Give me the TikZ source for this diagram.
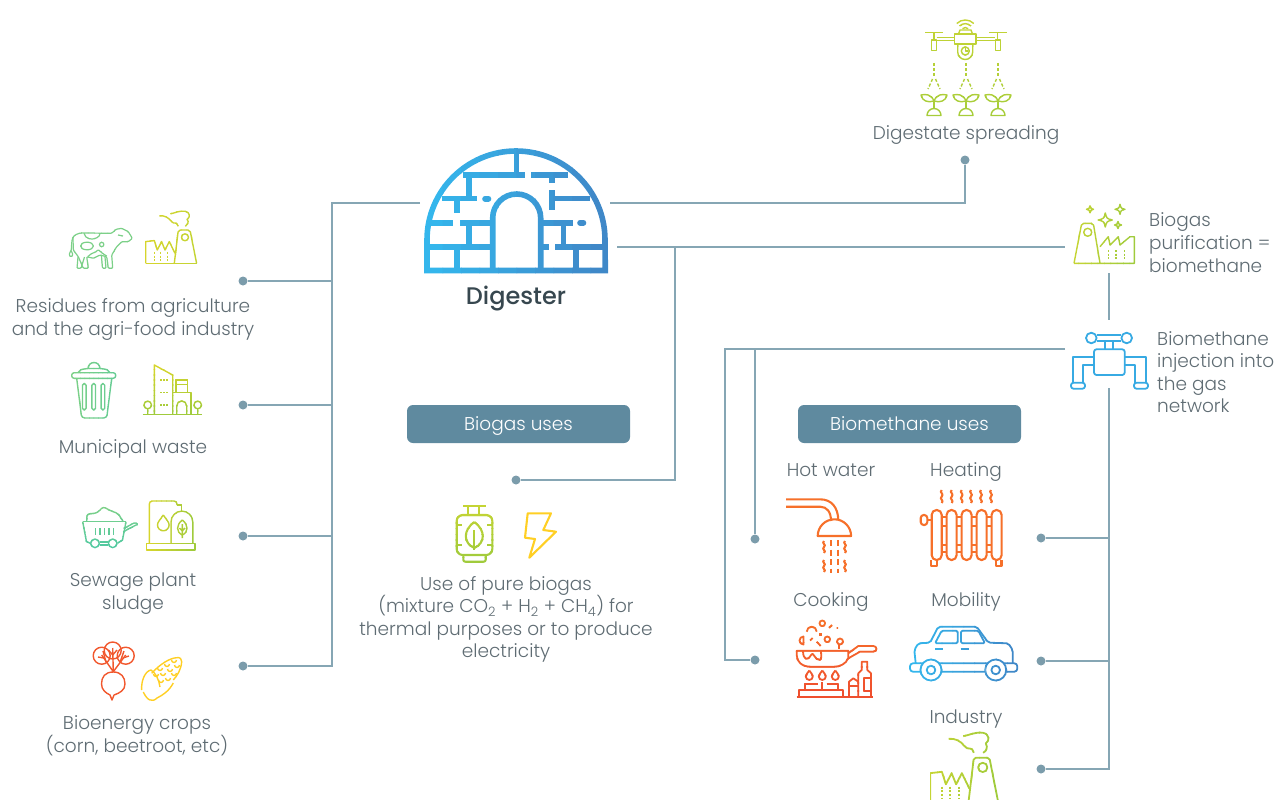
\documentclass[tikz,border=0pt]{standalone}
\usepackage{fontspec}
\setmainfont{Poppins}[UprightFont=* Light,BoldFont=* Medium]
\usetikzlibrary{positioning}
\definecolor{linkcol}{HTML}{86A6B4}
\definecolor{dotcol}{HTML}{7B9CAB}
\definecolor{boxcol}{HTML}{5F8A9F}
\definecolor{textcol}{HTML}{5F6C73}
\definecolor{darkcol}{HTML}{37474F}
\definecolor{skyA}{HTML}{34B6EC}
\definecolor{skyB}{HTML}{3F88C8}
\definecolor{limeA}{HTML}{D6D52C}
\definecolor{limeB}{HTML}{C4D434}
\definecolor{limeC}{HTML}{A0CB3C}
\definecolor{mintA}{HTML}{7CD088}
\definecolor{mintB}{HTML}{52C9A0}
\definecolor{fireA}{HTML}{F6702A}
\definecolor{fireB}{HTML}{EF4F2E}
\definecolor{cornA}{HTML}{FFCF24}
\tikzset{
 link/.style={draw=linkcol,line width=1.2pt},
 dot/.style={circle,fill=dotcol,inner sep=0pt,minimum size=9pt},
 usebox/.style={rectangle,rounded corners=6pt,fill=boxcol,text=white,minimum width=223pt,minimum height=38pt,inner sep=0pt,text height=17pt,text depth=4pt,font=\fontsize{18.5}{22}\selectfont},
 label/.style={text=textcol,font=\fontsize{18.5}{23}\selectfont,inner sep=0pt,align=center,execute at begin node=\strut,execute at end node=\strut},
 sidelabel/.style={text=textcol,font=\fontsize{18.5}{22.6}\selectfont,inner sep=0pt,align=left,anchor=west,execute at begin node=\strut,execute at end node=\strut},
 thin icon/.style={line width=1.4pt,line join=round},
 mid icon/.style={line width=1.8pt,line join=round},
 bold icon/.style={line width=2.1pt,line join=round}
}
% gradient strokes: the same drawing cut in bands
\newcommand{\gradx}[5]{%
 \foreach \band in {0,...,9}{%
  \pgfmathsetmacro{\bandl}{#1+(#2-#1)*\band/10}
  \pgfmathsetmacro{\bandr}{#1+(#2-#1)*(\band+1)/10+0.6}
  \pgfmathsetmacro{\bandmix}{100-\band*100/9}
  \colorlet{bandcol}{#3!\bandmix!#4}
  \begin{scope}
  \clip (\bandl,0) rectangle (\bandr,800);
  \begin{scope}[color=bandcol] #5 \end{scope}
  \end{scope}}}
\newcommand{\grady}[5]{%
 \foreach \band in {0,...,9}{%
  \pgfmathsetmacro{\bandl}{#1+(#2-#1)*\band/10}
  \pgfmathsetmacro{\bandr}{#1+(#2-#1)*(\band+1)/10+0.6}
  \pgfmathsetmacro{\bandmix}{100-\band*100/9}
  \colorlet{bandcol}{#3!\bandmix!#4}
  \begin{scope}
  \clip (0,\bandl) rectangle (1277,\bandr);
  \begin{scope}[color=bandcol] #5 \end{scope}
  \end{scope}}}
\newcommand{\plantsprout}[1]{%
 \draw (#1-7,115.5) arc[start angle=180,end angle=0,radius=7pt] -- cycle;
 \draw (#1,108.5) -- (#1,101);
 \draw (#1,101) .. controls (#1-3,94) and (#1-8,94) .. (#1-13,95) .. controls (#1-12,101) and (#1-6,103) .. (#1,101);
 \draw (#1,101) .. controls (#1+3,94) and (#1+8,94) .. (#1+13,95) .. controls (#1+12,101) and (#1+6,103) .. (#1,101);
 \draw[dash pattern=on 3pt off 2pt] (#1,63) -- (#1,76);
 \draw[dash pattern=on 3pt off 2pt] (#1-1.5,79) -- (#1-6,89);
 \draw[dash pattern=on 3pt off 2pt] (#1+1.5,79) -- (#1+6,89);}
\newcommand{\sparkle}[3]{%
 \draw (#1,#2-#3) .. controls (#1+.2*#3,#2-.2*#3) .. (#1+#3,#2) .. controls (#1+.2*#3,#2+.2*#3) .. (#1,#2+#3) .. controls (#1-.2*#3,#2+.2*#3) .. (#1-#3,#2) .. controls (#1-.2*#3,#2-.2*#3) .. cycle;}
\newcommand{\wavyline}[3]{%
 \draw (#1,#2) .. controls (#1-3,#2+#3*.2) and (#1+3,#2+#3*.3) .. (#1,#2+#3*.5) .. controls (#1-3,#2+#3*.7) and (#1+3,#2+#3*.8) .. (#1,#2+#3);}
\newcommand{\smokefactory}{%
 \draw (-28.7,0) -- (-28.7,-21.7) -- (-20,-22.7) -- (-17,-13.3) -- (-12.7,-21.7) -- (-9.3,-13.3) -- (-5,-21.7) -- (0.7,-10);
 \draw (-28.7,0) -- (22.3,0);
 \draw[rounded corners=2pt] (0,0) -- (4,-33.3) -- (15.7,-33.3) -- (22.3,0);
 \draw (10.7,-26) circle[radius=3.5pt];
 \foreach \wx in {-20,-13.7,-7}{\draw[dash pattern=on 2pt off 1.7pt] (\wx,-11.5) -- (\wx,-2);}
 \draw (-15,-47.5) .. controls (-10,-48) and (-6,-46) .. (-3,-42) .. controls (0,-38) and (2,-43) .. (4,-37);
 \draw (-4,-49.5) .. controls (0,-50) and (5,-53) .. (11,-52) .. controls (16,-51) and (16,-46) .. (13,-44) .. controls (15,-41) and (13,-38) .. (11,-37);}

\begin{document}
\begin{tikzpicture}[x=1pt,y=-1pt]
\useasboundingbox (0,0) rectangle (1277,800);

\path (243,281) node[dot,name=dotresidues] {};
\path (243,405) node[dot,name=dotmunicipal] {};
\path (243,536) node[dot,name=dotsewage] {};
\path (243,666) node[dot,name=dotcrops] {};
\path (965,160) node[dot,name=dotspread] {};
\path (516,480) node[dot,name=dotbiogas] {};
\path (755,539) node[dot,name=dothot] {};
\path (755,660) node[dot,name=dotcook] {};
\path (1041,538) node[dot,name=dotheat] {};
\path (1041,661) node[dot,name=dotmobility] {};
\path (1041,769) node[dot,name=dotindustry] {};

\coordinate (iglooleft) at (420,203);
\coordinate (igloospread) at (610,203);
\coordinate (igloopure) at (617,247);
\coordinate (trunktop) at (332,203);
\coordinate (trunkres) at (332,281);
\coordinate (trunkmun) at (332,405);
\coordinate (trunksew) at (332,536);
\coordinate (trunkcrop) at (332,666);
\coordinate (spreadcorner) at (965,203);
\coordinate (purein) at (1065,247);
\coordinate (biogasdrop) at (675,247);
\coordinate (biogascorner) at (675,480);
\coordinate (pureout) at (1109,273);
\coordinate (injectin) at (1109,320);
\coordinate (injectleft) at (1065,349);
\coordinate (farcorner) at (725,349);
\coordinate (hotcorner) at (755,349);
\coordinate (cookcorner) at (725,660);
\coordinate (injectdown) at (1109,388);
\coordinate (downheat) at (1109,538);
\coordinate (downmob) at (1109,661);
\coordinate (downind) at (1109,769);

\draw[link] (iglooleft) -- (trunktop) -- (trunkcrop) -- (dotcrops);
\draw[link] (trunkres) -- (dotresidues);
\draw[link] (trunkmun) -- (dotmunicipal);
\draw[link] (trunksew) -- (dotsewage);
\draw[link] (igloospread) -- (spreadcorner) -- (dotspread);
\draw[link] (igloopure) -- (purein);
\draw[link] (biogasdrop) -- (biogascorner) -- (dotbiogas);
\draw[link] (pureout) -- (injectin);
\draw[link] (injectleft) -- (farcorner) -- (cookcorner) -- (dotcook);
\draw[link] (hotcorner) -- (dothot);
\draw[link] (injectdown) -- (downind) -- (dotindustry);
\draw[link] (downheat) -- (dotheat);
\draw[link] (downmob) -- (dotmobility);

\path (518.5,424) node[usebox,name=biogasuses] {Biogas uses};
\path (909.5,424) node[usebox,name=methaneuses] {Biomethane uses};

\path (516,298.5) node[name=digester,inner sep=0pt,text=darkcol,font=\fontsize{24}{26}\bfseries\selectfont] {Digester};
\path (966,134.4) node[label,name=spreadtext] {Digestate spreading};
\path (1149,246) node[sidelabel,name=puretext] {Biogas\\purification =\\biomethane};
\path (1157,375.4) node[sidelabel,name=injecttext] {Biomethane\\injection into\\the gas\\network};
\path (133,320.9) node[label,name=residuetext] {Residues from agriculture\\and the agri-food industry};
\path (133,448.4) node[label,name=municipaltext] {Municipal waste};
\path (133,594.9) node[label,name=sewagetext] {Sewage plant\\sludge};
\path (137,737.9) node[label,name=cropstext] {Bioenergy crops\\(corn, beetroot, etc)};
\path (506,620.4) node[label,font=\fontsize{18.5}{22.4}\selectfont,name=puretextb] {Use of pure biogas\\(mixture CO\textsubscript{2} + H\textsubscript{2} + CH\textsubscript{4}) for\\thermal purposes or to produce\\electricity};
\path (831,471.4) node[label,name=hottext] {Hot water};
\path (966,471.4) node[label,name=heattext] {Heating};
\path (831,601.4) node[label,name=cooktext] {Cooking};
\path (966,601.4) node[label,name=mobtext] {Mobility};
\path (966,718.4) node[label,name=industrytext] {Industry};

% digester igloo
\gradx{424}{609}{skyA}{skyB}{
 \draw[line width=5.6pt,line join=miter] (427,270.5) -- (427,240) arc[start angle=180,end angle=0,radius=89pt] -- (605.3,270.5) -- cycle;
 \draw[line width=5.6pt] (492.7,270) -- (492.7,218) arc[start angle=180,end angle=0,radius=24pt] -- (540.7,270);
 \draw[line width=5.6pt] (516.3,150) -- (516.3,175);
 \draw[line width=5.6pt] (463.3,175) -- (525,175);
 \draw[line width=5.6pt] (531,175) -- (568,175);
 \draw[line width=5.6pt] (469,175) -- (469,198.3);
 \draw[line width=5.6pt] (441.7,198.3) -- (477.3,198.3);
 \draw[line width=5.6pt] (456.7,198.3) -- (456.7,213.3);
 \draw[line width=5.6pt,line cap=round] (485,198.7) -- (488.5,198.7);
 \draw[line width=5.6pt] (552,175) -- (552,183.3);
 \draw[line width=5.6pt] (552,190) -- (552,210);
 \draw[line width=5.6pt] (552,198.3) -- (590,198.3);
 \draw[line width=5.6pt] (431,222.7) -- (453.3,222.7);
 \draw[line width=5.6pt] (460,222.7) -- (490,222.7);
 \draw[line width=5.6pt] (469,222.7) -- (469,246.7);
 \draw[line width=5.6pt] (427,246.7) -- (490,246.7);
 \draw[line width=5.6pt] (456.7,246.7) -- (456.7,270);
 \draw[line width=5.6pt] (543,222.7) -- (573.3,222.7);
 \draw[line width=5.6pt,line cap=round] (580,222.7) -- (583.5,222.7);
 \draw[line width=5.6pt] (563.3,222.7) -- (563.3,246.7);
 \draw[line width=5.6pt] (543,246.7) -- (549,246.7);
 \draw[line width=5.6pt] (555,246.7) -- (605,246.7);
 \draw[line width=5.6pt] (575.7,246.7) -- (575.7,270);
}

% drone and sprouts
\grady{15}{117}{limeB}{limeC!80!limeB}{
 \begin{scope}[thin icon]
 \draw (956.8,23.5) arc[start angle=135,end angle=45,radius=12pt];
 \draw (959.6,26) arc[start angle=135,end angle=45,radius=8pt];
 \draw (962.5,28.7) arc[start angle=135,end angle=45,radius=4pt];
 \draw (958.5,34) -- (960,30) -- (971,30) -- (972.5,34);
 \draw (954.3,34) rectangle (976,44);
 \draw (936.7,37.3) -- (954.3,37.3) (936.7,40.7) -- (954.3,40.7);
 \draw (976,37.3) -- (995.3,37.3) (976,40.7) -- (995.3,40.7);
 \draw (925,32.3) -- (942.7,32.3) (934,32.3) -- (934,40);
 \draw (989.3,32.3) -- (1006.7,32.3) (997.7,32.3) -- (997.7,40);
 \draw (931.3,40) rectangle (936.7,50.7);
 \draw (995.3,40) rectangle (1000.7,50.7);
 \draw (957.7,44) -- (957.7,52) arc[start angle=180,end angle=360,radius=7.5pt] -- (972.7,44);
 \draw (965.3,51) circle[radius=4pt];
 \draw (965.3,48.5) -- (965.3,51) -- (967.5,51);
 \plantsprout{934}
 \plantsprout{966}
 \plantsprout{998}
 \end{scope}
}

% purification plant
\gradx{1072}{1136}{limeB}{limeC}{
 \begin{scope}[thin icon]
 \draw[rounded corners=2pt] (1074,263.3) -- (1081.7,223.3) -- (1093.3,223.3) -- (1100,263.3);
 \draw (1074,263.3) -- (1134.3,263.3) -- (1134.3,236.7) -- (1130,236.7) -- (1120,245) -- (1118.3,236.7) -- (1110,245) -- (1108.3,236.7) -- (1100,246.7);
 \draw (1087.7,232.3) circle[radius=4pt];
 \foreach \wx in {1108.3,1116,1124.3}{\draw[dash pattern=on 2pt off 1.7pt] (\wx,250) -- (\wx,260);}
 \sparkle{1105.3}{220}{7}
 \sparkle{1120}{209.3}{5}
 \sparkle{1090}{209.3}{3.5}
 \sparkle{1118}{225}{3.5}
 \end{scope}
}

% valve
\begin{scope}[color=skyA!75!skyB,mid icon]
 \draw[rounded corners=2.5pt] (1094,349.3) rectangle (1124.7,375);
 \draw (1091.3,338) circle[radius=5.3pt];
 \draw (1126.7,338) circle[radius=5.3pt];
 \draw (1096.7,335) -- (1121.4,335) (1096.7,340.7) -- (1121.4,340.7);
 \draw (1105,340.7) -- (1105,349.3) (1113.3,340.7) -- (1113.3,349.3);
 \draw (1094,356.7) -- (1072.7,356.7) -- (1072.7,382.7);
 \draw (1083.3,382.7) -- (1083.3,365) -- (1094,365);
 \draw (1124.7,356.7) -- (1146,356.7) -- (1146,382.7);
 \draw (1135.3,382.7) -- (1135.3,365) -- (1124.7,365);
 \draw[rounded corners=2.5pt] (1071,382.7) rectangle (1085,388.7);
 \draw[rounded corners=2.5pt] (1134,382.7) rectangle (1148,388.7);
\end{scope}

% cow
\gradx{68}{134}{mintA}{mintA}{
 \begin{scope}[line width=1.2pt,line join=round,rounded corners=1pt]
 \draw (73,237) .. controls (71,242) and (72,247) .. (71,251);
 \draw (71,250) -- (73,255) -- (71,257) -- (69,255) -- cycle;
 \draw (73,237) .. controls (77,233) and (82,232.7) .. (86,233) -- (111.7,233.3) -- (116,229.3) -- (121.7,228.3) -- (128.3,231.7) -- (132.3,238.3) -- (128.3,241.7) -- (121.7,241.7) -- (116.7,246.7) -- (111.7,255) -- (112.7,268.3) -- (108.3,268.3) -- (106.7,256.7) -- (100,255) -- (93.3,258.3) -- (86.7,256.7) -- (88.3,268.3) -- (83.3,268.3) -- (78.3,256.7) -- (73.3,250) -- cycle;
 \draw (105,257) -- (106,268.3) -- (102.5,268.3) -- (101.5,256);
 \draw (84.5,257) -- (81,268.3) -- (77,268.3) -- (78,257);
 \draw (87,246) ellipse[x radius=6.5pt,y radius=3.8pt];
 \draw (101.7,244.5) circle[radius=2.2pt];
 \draw (84,233.3) .. controls (85,239) and (92,240) .. (96,238) .. controls (99,237) and (100,235) .. (100,233.3);
 \draw (88,256.5) .. controls (92,252) and (96,253) .. (98,249.5) .. controls (101,252) and (103,254) .. (106.7,256);
 \draw (118,235) -- (123,236);
 \end{scope}
}

% factory beside the cow
\gradx{145}{197}{limeA}{limeB}{
 \begin{scope}[shift={(174.3,263.3)},thin icon]
 \smokefactory
 \end{scope}
}

% bin
\gradx{71}{116}{mintA}{mintB!50!mintA}{
 \begin{scope}[thin icon]
 \draw[rounded corners=2.5pt] (71.7,372.7) rectangle (115.7,378.3);
 \draw (78,372.7) .. controls (80,369.5) .. (88,368.5);
 \draw (100,368.5) .. controls (108,369.5) .. (110,372.7);
 \draw (88,368.5) arc[start angle=180,end angle=0,radius=6pt] -- cycle;
 \draw[rounded corners=3pt] (76.7,378.3) -- (81.7,418) -- (106.7,418) -- (111.7,378.3);
 \foreach \sx in {84.3,93.7,102.9}{\draw[rounded corners=1.7pt] (\sx-1.8,383.5) rectangle (\sx+1.8,410);}
 \end{scope}
}

% buildings
\grady{364}{416}{limeA}{limeC}{
 \begin{scope}[thin icon]
 \draw (142.7,414.3) -- (202.3,414.3);
 \draw (154.3,414.3) -- (154.3,365) -- (172.7,375) -- (172.7,414.3);
 \draw (172.7,392.7) -- (191,392.7) -- (191,414.3);
 \draw (176,392.7) -- (176,380) -- (187.7,380) -- (187.7,392.7) (176,384.3) -- (187.7,384.3);
 \draw (176.7,414.3) -- (176.7,406) arc[start angle=180,end angle=0,radius=5pt] -- (186.7,414.3);
 \draw (147.7,405) circle[radius=3.8pt] (147.7,408.8) -- (147.7,414.3);
 \draw (197.7,405) circle[radius=3.8pt] (197.7,408.8) -- (197.7,414.3);
 \foreach \wy in {380,392.7,405}{\draw[dash pattern=on 1.7pt off 1.2pt] (160,\wy) -- (168,\wy);}
 \end{scope}
}

% wheelbarrow
\grady{506}{549}{mintA}{mintB}{
 \begin{scope}[thin icon]
 \draw[rounded corners=2.5pt] (86.7,521.7) -- (87,514) -- (97,513) -- (103.3,506.7) -- (110,510.5) -- (118,513.5) -- (123.3,521.7);
 \draw (82.7,521.7) -- (126,521.7);
 \draw (82.7,521.7) -- (86.5,541.7) -- (90.5,543.3);
 \draw (126,521.7) -- (122.5,540) -- (117.5,543.3);
 \draw (123.3,531.7) -- (136,525);
 \draw (123.8,528.5) -- (134,523);
 \draw (134,523) .. controls (138,522) and (138,526) .. (136,525);
 \draw (95,543.3) circle[radius=4.3pt];
 \draw (112.7,543.3) circle[radius=4.3pt];
 \draw (99.5,542) -- (108.3,542) (99.5,545) -- (108.3,545);
 \foreach \tx in {95.3,99.8,104.3,108.8,113.3}{\draw (\tx,528.3) -- (\tx,535);}
 \end{scope}
}

% tanks
\gradx{146}{196}{limeA}{limeC}{
 \begin{scope}[thin icon]
 \draw (146.7,543.3) rectangle (195,550);
 \draw[rounded corners=3pt] (149.3,543.3) -- (149.3,501) -- (177,501) -- (177,505);
 \draw (171,543.3) -- (171,522) arc[start angle=180,end angle=0,radius=10.9pt] -- (192.8,543.3);
 \draw (177,505) -- (181.7,505) -- (181.7,511);
 \draw (163.3,515) .. controls (160,520) and (157.5,522) .. (157.5,525) arc[start angle=180,end angle=360,radius=5.8pt] .. controls (169.1,522) and (166.6,520) .. (163.3,515);
 \draw (182.3,520) .. controls (176,525) and (176,532) .. (182.3,535) .. controls (188.6,532) and (188.6,525) .. (182.3,520);
 \draw (182.3,524) -- (182.3,538) (182.3,531) -- (179.5,528) (182.3,531) -- (185.1,528);
 \end{scope}
}

% beetroot
\begin{scope}[color=fireB!75!fireA,thin icon]
 \draw (101.7,655.7) circle[radius=8.5pt];
 \draw (112.7,650.5) circle[radius=8.5pt];
 \draw (125.7,655.7) circle[radius=8.5pt];
 \draw (113.3,671.7) -- (101.7,655 ) (113.3,671.7) -- (112.7,648) (113.3,671.7) -- (125.7,655);
 \draw (104,658) -- (98,657) (106,662) -- (103,651) (112.7,655) -- (108.5,650) (112.7,655) -- (117,650) (123,658) -- (129,656) (120.5,661) -- (124,651);
 \draw (113.3,672) .. controls (105,672) and (101.5,677) .. (101.5,684) .. controls (101.5,690) and (106,693) .. (110,695) -- (112,700) -- (114,695) .. controls (120,693) and (125,690) .. (125,684) .. controls (125,677) and (121,672) .. (113.3,672);
\end{scope}

% corn
\begin{scope}[color=cornA,thin icon]
 \draw (151.7,673.3) .. controls (160,664) and (170,658) .. (176.7,657.7) .. controls (180,657) and (182,659) .. (181.7,661.7) .. controls (181,670) and (177,676) .. (173.3,680);
 \draw (141.7,690) .. controls (141,681) and (145,671) .. (151,670) .. controls (156,673) and (159,680) .. (160,687);
 \draw (143.3,692) .. controls (147,700) and (152,703) .. (157,698) .. controls (163,695) and (169,691) .. (173.3,683);
 \foreach \kx/\ky in {160/668,167/664,174/660,156/674,163/673,170/669,177/665,161/680,168/678,174/673}{\draw (\kx-2.5,\ky) arc[start angle=180,end angle=360,radius=2.5pt];}
\end{scope}

% gas bottle
\grady{505}{563}{limeB}{limeC}{
 \begin{scope}[bold icon]
 \draw (463.3,506) -- (485.7,506);
 \draw (468.3,506) -- (468.3,515) (479.3,506) -- (479.3,515);
 \draw[rounded corners=6pt] (456.7,515) rectangle (492.3,555);
 \draw[rounded corners=2pt] (463.3,555) -- (463.3,561.7) -- (485.7,561.7) -- (485.7,555);
 \draw (474.3,522) .. controls (463,530) and (463,543) .. (474.3,548) .. controls (485.6,543) and (485.6,530) .. (474.3,522);
 \draw (474.3,530) -- (474.3,550);
 \draw (456.7,525) -- (461.7,525) (456.7,545) -- (461.7,545) (487.3,525) -- (492.3,525) (487.3,545) -- (492.3,545);
 \end{scope}
}

% lightning
\draw[color=cornA,bold icon] (527.7,513.3) -- (551,513.3) -- (543.3,530) -- (556,531.7) -- (529.3,557.7) -- (535,539) -- (525,537.7) -- cycle;

% shower
\begin{scope}[color=fireA,bold icon]
 \draw (786,499.3) -- (820,499.3) .. controls (832,499.3) and (838,508) .. (838.3,520);
 \draw (786,506.7) -- (820,506.7) .. controls (827,506.7) and (831,512) .. (831,521);
 \draw (817.7,536) arc[start angle=180,end angle=0,radius=16.7pt] -- cycle;
 \foreach \rx in {824,845}{\wavyline{\rx}{541}{12} \wavyline{\rx}{560}{12}}
 \foreach \rx in {831,837.7}{\draw[dash pattern=on 6pt off 3.5pt] (\rx,540) -- (\rx,573);}
\end{scope}

% radiator
\begin{scope}[color=fireA,bold icon]
 \foreach \rx in {936.7,951.6,966.6,981.6,996.6}{\draw[rounded corners=4.8pt] (\rx-5,510) rectangle (\rx+5,560);}
 \foreach \rx in {944.2,959.1,974.1,989.1}{\draw (\rx-2.5,517) -- (\rx+2.5,517) (\rx-2.5,526) -- (\rx+2.5,526) (\rx-2.5,545) -- (\rx+2.5,545) (\rx-2.5,552) -- (\rx+2.5,552);}
 \draw[rounded corners=3pt] (920.7,515) rectangle (927.3,525);
 \draw (927.3,520) -- (931.7,520);
 \draw (931,560) -- (931,565.7) -- (936.7,565.7) -- (936.7,560);
 \draw (995.7,560) -- (995.7,565.7) -- (1001.5,565.7) -- (1001.5,560);
 \foreach \rx in {941.7,951.7,961.7,971,981,991}{\wavyline{\rx}{490}{13}}
\end{scope}

% wok and stove
\grady{618}{699}{fireA}{fireB}{
 \begin{scope}[mid icon]
 \draw (796.7,650.7) -- (848.3,650.7) -- (848.3,658) .. controls (846,664) and (840,666.7) .. (834,666.7) -- (811,666.7) .. controls (802,666.7) and (796.7,662) .. (796.7,655) -- cycle;
 \draw (848.3,653.3) -- (858.3,646) -- (873.3,646) .. controls (877.5,646) and (877.5,651.7) .. (873.3,651.7) -- (860,651.7) -- (848.3,658.3);
 \draw (803,651) .. controls (803,660) and (808,661) .. (811,655) .. controls (813,650) and (815,661) .. (820,660) .. controls (822,659) and (821,654) .. (821,651);
 \draw (822.3,623.3) circle[radius=2.8pt];
 \draw (827.3,639.3) circle[radius=2.8pt];
 \draw (806.7,631.7) arc[start angle=180,end angle=0,radius=5pt];
 \fill (818.5,632.5) rectangle (822,636);
 \draw (840,641.5) circle[radius=3pt];
 \draw (839,645) -- (839,648.5);
 \draw (803.5,636.5) arc[start angle=90,end angle=270,radius=4pt] -- cycle;
 \draw (829,628) -- (832,625) (836.5,628) -- (838,628);
 \draw (810,640.5) -- (812.7,638);
 \draw (816.7,641.7) -- (820.7,646);
 \foreach \fx in {809.3,822.3,835.3}{\draw (\fx,670.5) .. controls (\fx-2,673) and (\fx-3.5,675) .. (\fx-3.5,676.5) arc[start angle=180,end angle=360,radius=3.5pt] .. controls (\fx+3.5,675) and (\fx+2,673) .. (\fx,670.5);}
 \draw[line width=2.2pt] (796.7,696.7) -- (873.3,696.7);
 \draw (799.3,696.7) -- (799.3,690) -- (843.3,690) -- (843.3,696.7);
 \draw (805,690) -- (805,684) -- (818.3,684);
 \draw (826.7,684) -- (838.3,684) -- (838.3,690);
 \draw (822.3,682) -- (822.3,690);
 \draw (858.3,696.7) -- (858.3,673.3) -- (861.7,670) -- (861.7,661.7) -- (867.3,661.7) -- (867.3,670) -- (871,673.3) -- (871,696.7);
 \draw (864,678) -- (871,678) -- (871,691) -- (864,691) -- cycle;
 \draw (849,696.7) -- (849,681.7) -- (853.3,678.3) -- (858.3,681.7);
 \draw (849,686) -- (858.3,686);
 \end{scope}
}

% car
\gradx{909}{1018}{skyA}{skyB}{
 \begin{scope}[mid icon]
 \draw[rounded corners=3pt] (910,663.3) rectangle (1017.3,671.7);
 \draw[rounded corners=2pt] (915.7,663.3) -- (914.3,650) -- (918.3,643.3) -- (930,642.7) -- (938.3,626.7) -- (976.7,626.7) -- (988.3,642.7) -- (1008.3,643.3) -- (1012.7,650) -- (1012.7,663.3);
 \draw[rounded corners=1.5pt] (935,643.3) -- (941.7,630.7) -- (957.7,630.7) -- (957.7,643.3) -- cycle;
 \draw[rounded corners=1.5pt] (961,643.3) -- (961,630.7) -- (978.3,630.7) -- (985,643.3) -- cycle;
 \draw (935,649.3) -- (942.7,649.3) (960.7,649.3) -- (969,649.3);
 \draw[fill=white] (931,670) circle[radius=10.5pt];
 \draw[fill=white] (995.7,670) circle[radius=10.5pt];
 \draw (931,670) circle[radius=4.3pt];
 \draw (995.7,670) circle[radius=4.3pt];
 \end{scope}
}

% industry
\gradx{930}{1000}{limeB}{limeC}{
 \begin{scope}[shift={(968.5,802)},scale=1.33,mid icon]
 \smokefactory
 \end{scope}
}
\end{tikzpicture}
\end{document}
